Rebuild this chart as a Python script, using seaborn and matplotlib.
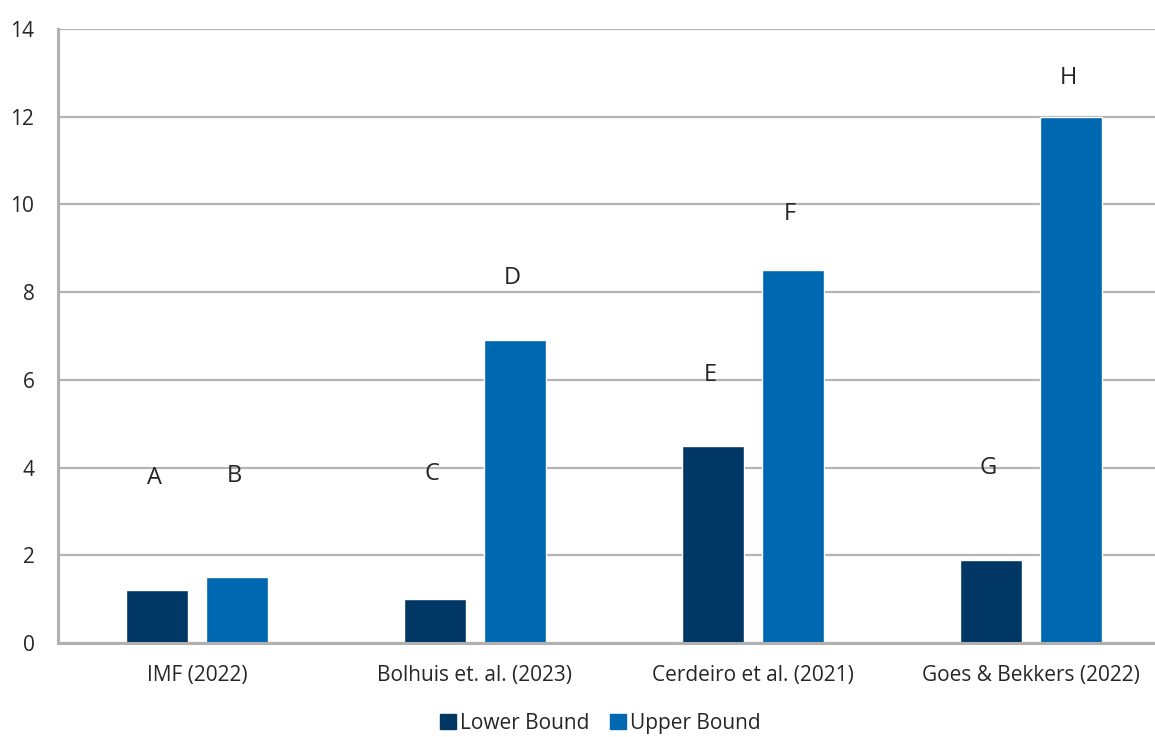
import pandas as pd
import seaborn as sns
import matplotlib.pyplot as plt

sns.set_style("white")
plt.rcParams["font.family"] = ["Open Sans", "DejaVu Sans"]

studies = ["IMF (2022)", "Bolhuis et. al. (2023)", "Cerdeiro et al. (2021)", "Goes & Bekkers (2022)"]
lower = [1.2, 1.0, 4.5, 1.9]
upper = [1.5, 6.9, 8.5, 12.0]
letters = ["A", "B", "C", "D", "E", "F", "G", "H"]
letter_y = [3.76, 3.8, 3.85, 8.32, 6.1, 9.78, 3.99, 12.88]

df = pd.DataFrame({
    "Study": studies * 2,
    "Bound": ["Lower Bound"] * 4 + ["Upper Bound"] * 4,
    "Value": lower + upper,
})

fig = plt.figure(figsize=(11.55, 7.37), dpi=100)
ax = fig.add_axes([58 / 1155, 94 / 737, 1112 / 1155, 614 / 737])

sns.barplot(data=df, x="Study", y="Value", hue="Bound",
            palette=["#003764", "#0068B0"], width=0.575, gap=0.215,
            saturation=1, legend=False, ax=ax)

ax.set_xlim(-0.5, 3.5)
ax.set_ylim(0, 14)
ax.set_yticks(range(0, 15, 2))
ax.set_axisbelow(True)
ax.yaxis.grid(True, color="#b4b4b4", linewidth=1.6)
ax.set_xlabel("")
ax.set_ylabel("")
for side in ["top", "right"]:
    ax.spines[side].set_visible(False)
for side in ["left", "bottom"]:
    ax.spines[side].set_color("#b0b0b0")
    ax.spines[side].set_linewidth(2.2)
ax.tick_params(axis="y", length=0, pad=17, labelsize=15)
ax.tick_params(axis="x", length=0, pad=16, labelsize=15)

# letters above bars
bars = sorted(ax.patches, key=lambda p: p.get_x())
for bar, lab, y in zip(bars, letters, letter_y):
    ax.text(bar.get_x() + bar.get_width() / 2 - 0.01, y, lab, ha="center", va="center", fontsize=17)

handles = [plt.Rectangle((0, 0), 1, 1, color=c) for c in ["#003764", "#0068B0"]]
fig.legend(handles, ["Lower Bound", "Upper Bound"], loc="lower center",
           bbox_to_anchor=(0.52, -0.021), ncol=2, frameon=False, fontsize=15,
           handlelength=0.75, handleheight=0.75, handletextpad=0.2, columnspacing=1.0)

fig.savefig("out.png", dpi=100)
